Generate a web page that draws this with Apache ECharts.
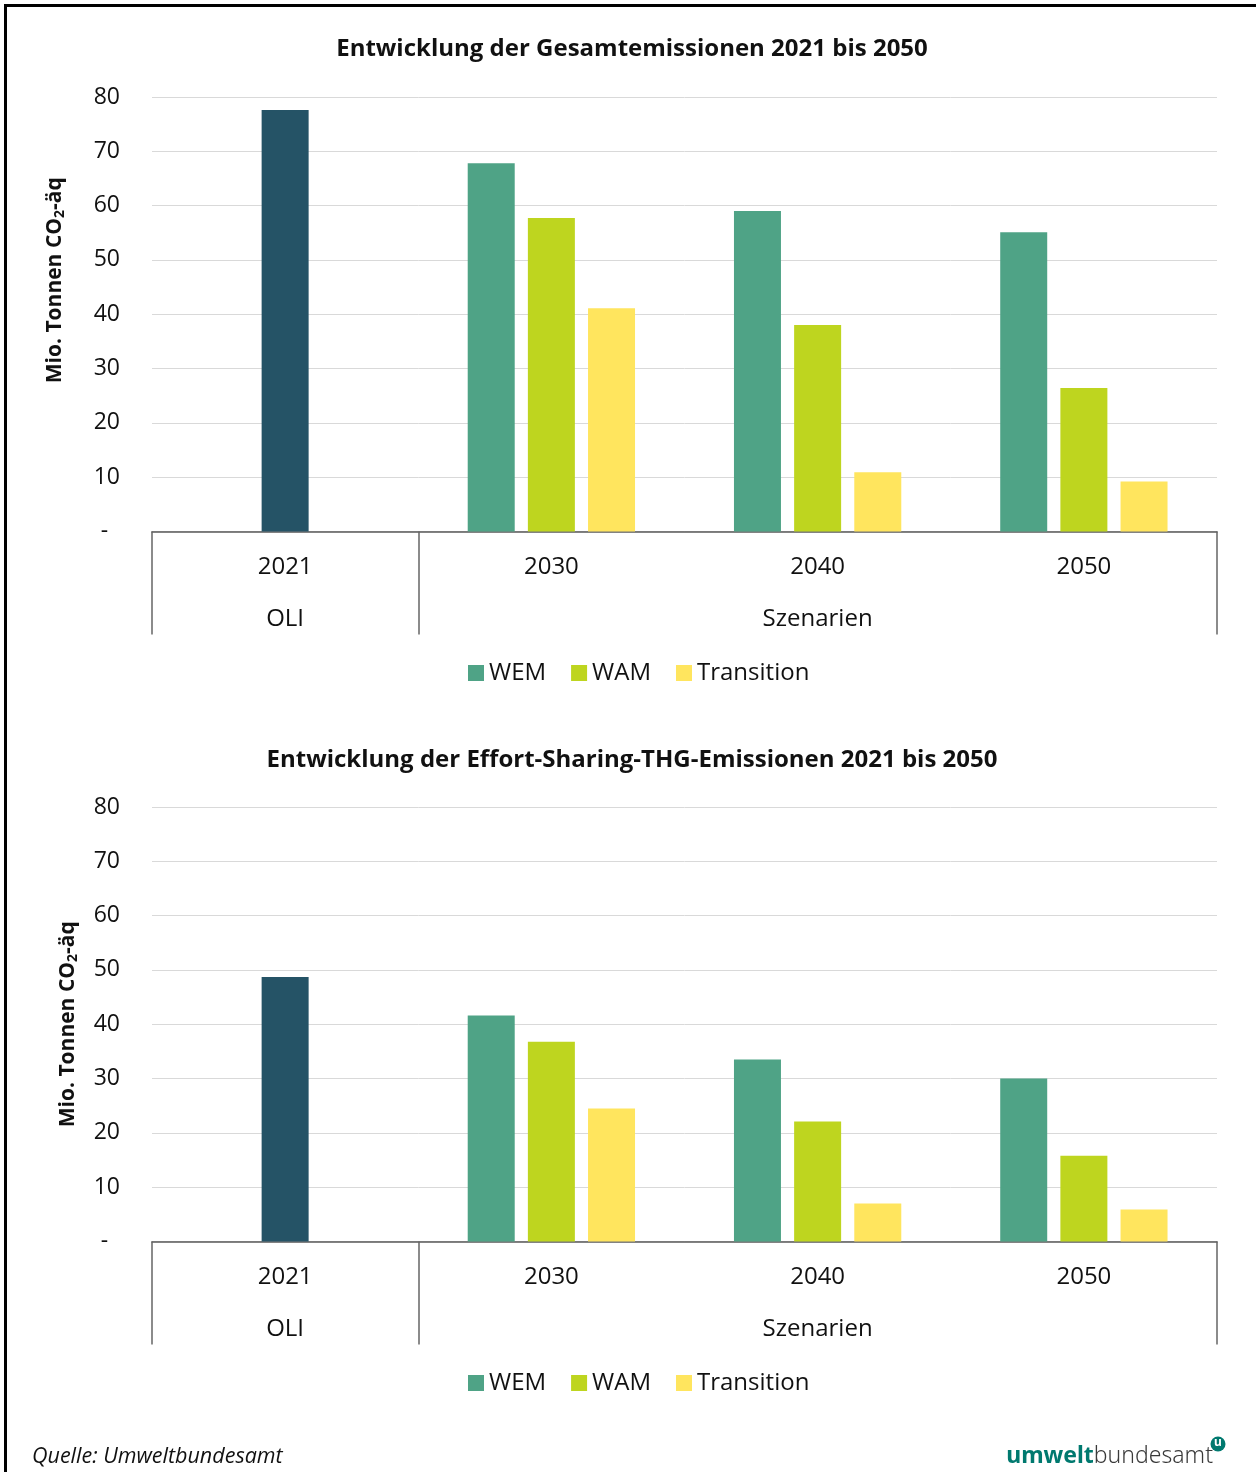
<!DOCTYPE html>
<html>
<head>
<meta charset="utf-8">
<script src="https://cdn.jsdelivr.net/npm/echarts@6/dist/echarts.min.js"></script>
<style>
  html, body { margin: 0; padding: 0; background: #fff; }
  #chart { position: absolute; left: 0; top: 0; width: 1256px; height: 1472px; }
  #frame { position: absolute; left: 4px; top: 4px; right: 0; bottom: 0;
           border-top: 3px solid #000; border-left: 3px solid #000; pointer-events: none; }
</style>
</head>
<body>
<div id="chart"></div>
<div id="frame"></div>
<script>
// Years on the lower axis row and the grouping row beneath them
const years = ['2021', '2030', '2040', '2050'];
const groups = ['OLI', '', 'Szenarien', ''];
const seriesNames = ['WEM', 'WAM', 'Transition'];
const yTicks = [0, 10, 20, 30, 40, 50, 60, 70, 80];

// Gesamtemissionen (Mio. t CO2-äq)
const totalOLI        = [77.6, null, null, null];
const totalWEM        = [null, 67.8, 59.0, 55.1];
const totalWAM        = [null, 57.7, 38.0, 26.4];
const totalTransition = [null, 41.1, 10.9, 9.2];

// Effort-Sharing-THG-Emissionen (Mio. t CO2-äq)
const esOLI        = [48.7, null, null, null];
const esWEM        = [null, 41.6, 33.5, 30.0];
const esWAM        = [null, 36.8, 22.1, 15.8];
const esTransition = [null, 24.5, 7.0, 5.9];

const colors = { OLI: '#255366', WEM: '#4fa386', WAM: '#bed51f', Transition: '#ffe55e' };
const FONT = 'Open Sans';
const TEXT = '#111';

const panels = [
  { title: 'Entwicklung der Gesamtemissionen 2021 bis 2050', top: 97, oli: totalOLI, wem: totalWEM, wam: totalWAM, tr: totalTransition,
    nameGap: 85, namePad: [0, 0, 0, 68], titleTop: 32, legendTop: 656 },
  { title: 'Entwicklung der Effort-Sharing-THG-Emissionen 2021 bis 2050', top: 807, oli: esOLI, wem: esWEM, wam: esWAM, tr: esTransition,
    nameGap: 72, namePad: [0, 0, 0, 0], titleTop: 743, legendTop: 1366 }
];

const option = {
  animation: false,
  textStyle: { fontFamily: FONT },
  title: [], legend: [], grid: [], xAxis: [], yAxis: [], series: [],
  graphic: [
    { type: 'text', left: 32, top: 1446,
      style: { text: 'Quelle: Umweltbundesamt', font: 'italic 21.5px "Open Sans"', fill: TEXT } },
    // publisher logo, bottom right
    { type: 'text', x: 1213, y: 1468,
      style: {
        align: 'right', verticalAlign: 'bottom',
        text: '{a|umwelt}{b|bundesamt}',
        rich: {
          a: { fontFamily: 'Noto Sans', fontWeight: 'bold', fontSize: 23, fill: '#00796f' },
          b: { fontFamily: 'Noto Sans', fontWeight: 300, fontSize: 23, fill: '#3a3a3a' }
        }
      } },
    { type: 'circle', x: 1218, y: 1444, shape: { cx: 0, cy: 0, r: 7.5 }, style: { fill: '#00796f' } },
    { type: 'text', x: 1218, y: 1443,
      style: { text: 'u', align: 'center', verticalAlign: 'middle', font: 'bold 12px "Noto Sans"', fill: '#fff' } }
  ]
};

panels.forEach(function (p, gi) {
  option.title.push({
    text: p.title, left: 627, top: p.titleTop, textAlign: 'center',
    textStyle: { fontFamily: FONT, fontWeight: 'bold', fontSize: 24, color: TEXT }
  });
  option.legend.push({
    data: seriesNames, top: p.legendTop, left: 463,
    itemWidth: 16, itemHeight: 16, itemGap: 25, icon: 'rect',
    textStyle: { fontFamily: FONT, fontSize: 24, color: TEXT }
  });
  option.grid.push({ left: 152, right: 39, top: p.top, height: 434.5 });

  // year row
  option.xAxis.push({
    type: 'category', gridIndex: gi, data: years, position: 'bottom',
    axisLine: { show: true, lineStyle: { color: '#595959', width: 1.5 } },
    axisTick: { show: false },
    axisLabel: { margin: 24, fontSize: 24, color: TEXT, fontFamily: FONT }
  });
  // grouping row with divider lines
  option.xAxis.push({
    type: 'category', gridIndex: gi, data: groups, position: 'bottom',
    axisLine: { show: false },
    axisTick: { show: true, length: 103, interval: function (i) { return i <= 1; },
                lineStyle: { color: '#666', width: 1.5 } },
    axisLabel: { margin: 76, fontSize: 24, color: TEXT, fontFamily: FONT, interval: 0 }
  });
  option.yAxis.push({
    type: 'value', gridIndex: gi, min: yTicks[0], max: yTicks[yTicks.length - 1], interval: yTicks[1] - yTicks[0],
    axisLine: { show: false }, axisTick: { show: false },
    splitLine: { lineStyle: { color: '#d9d9d9', width: 1 } },
    axisLabel: { margin: 32, fontSize: 23, color: TEXT, fontFamily: FONT,
                 formatter: function (v) { return v === 0 ? '-  ' : String(v); } },
    name: 'Mio. Tonnen CO{s|2}-äq', nameLocation: 'middle', nameGap: p.nameGap,
    nameTextStyle: { fontFamily: FONT, fontWeight: 'bold', fontSize: 21, color: TEXT, padding: p.namePad,
      rich: { s: { fontFamily: FONT, fontWeight: 'bold', fontSize: 14, color: TEXT, padding: [9, 0, 0, 0] } } }
  });

  const xi = gi * 2, yi = gi;
  const common = { type: 'bar', xAxisIndex: xi, yAxisIndex: yi, barWidth: 47, barGap: '28%' };
  option.series.push(Object.assign({}, common, { name: 'WEM', stack: 's' + gi + 'a', data: p.wem, itemStyle: { color: colors.WEM } }));
  option.series.push(Object.assign({}, common, { name: 'WAM', stack: 's' + gi + 'b', data: p.wam, itemStyle: { color: colors.WAM } }));
  option.series.push(Object.assign({}, common, { name: 'Transition', stack: 's' + gi + 'c', data: p.tr, itemStyle: { color: colors.Transition } }));
  option.series.push(Object.assign({}, common, { name: 'OLI', stack: 's' + gi + 'b', data: p.oli, itemStyle: { color: colors.OLI } }));
});

const chart = echarts.init(document.getElementById('chart'), null, { renderer: 'canvas' });
chart.setOption(option);
</script>
</body>
</html>
